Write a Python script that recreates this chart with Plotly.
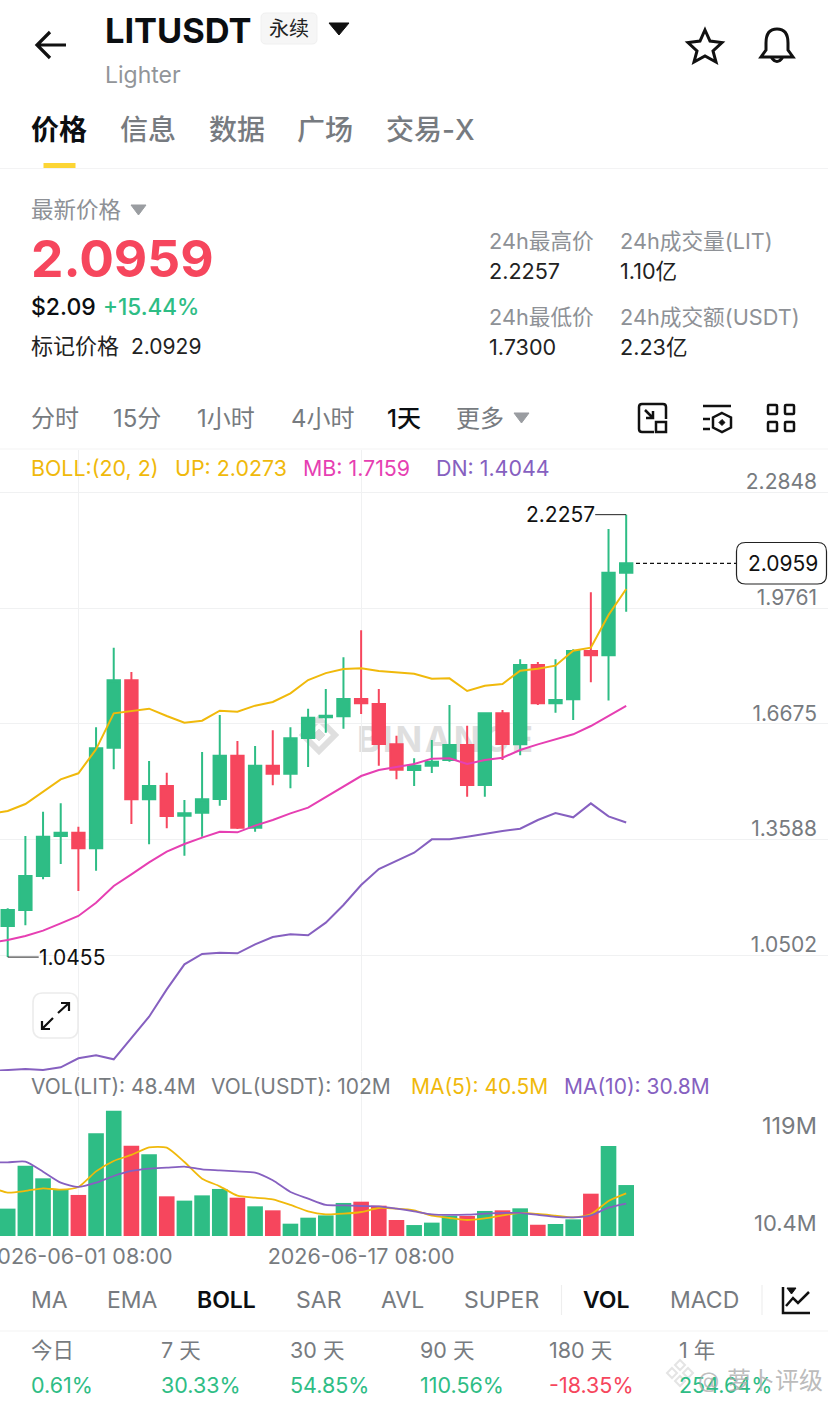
import re
import pandas as pd
import plotly.graph_objects as go

W, H = 828, 1405

# ---------- data ----------
dates = pd.date_range("2026-05-28 08:00", periods=36, freq="D")
line_dates = pd.date_range("2026-05-27 08:00", periods=37, freq="D")

opens = [1.1284,1.1711,1.2618,1.3685,1.3774,1.3356,1.6041,1.7837,1.4663,1.5019,1.4227,1.4307,
         1.4672,1.5828,1.3907,1.5561,1.5348,1.6299,1.6850,1.6877,1.7339,1.7206,1.6130,1.5445,
         1.5561,1.5712,1.6112,1.5045,1.6957,1.6130,1.8246,1.7224,1.7331,1.8620,1.8504,2.0710]
closes = [1.1711,1.2618,1.3667,1.3774,1.3356,1.6023,1.7837,1.4663,1.5019,1.4218,1.4290,1.4663,
          1.5828,1.3907,1.5561,1.5348,1.6290,1.6842,1.6895,1.7339,1.7224,1.6139,1.5454,1.5561,
          1.5668,1.6112,1.5045,1.6957,1.6139,1.8246,1.7224,1.7313,1.8620,1.8504,2.0710,2.0959]
highs = [1.1755,1.3685,1.4334,1.4556,1.3934,1.6584,1.8709,1.8060,1.5686,1.5374,1.4645,1.5926,
         1.6913,1.6219,1.6086,1.6504,1.6584,1.7082,1.7606,1.8451,1.9171,1.7606,1.6361,1.5757,
         1.6246,1.7179,1.6628,1.6975,1.7046,1.8398,1.8326,1.8398,1.8664,2.0185,2.1874,2.2257]
lows = [1.0455,1.1302,1.2529,1.2938,1.2218,1.2760,1.5463,1.4005,1.3463,1.3889,1.3160,1.3667,
        1.4494,1.3872,1.3800,1.5036,1.4956,1.5526,1.6441,1.6548,1.6939,1.5561,1.5196,1.5019,
        1.5365,1.5668,1.4734,1.4734,1.5712,1.5837,1.7179,1.6975,1.6779,1.7784,1.7300,1.9669]

boll_up = [1.4280,1.4352,1.4538,1.4867,1.5197,1.5357,1.5997,1.6957,1.7028,1.7082,1.6886,1.6708,1.6761,
           1.7028,1.7002,1.7162,1.7259,1.7491,1.7846,1.8030,1.8140,1.8158,1.8086,1.8051,1.8015,
           1.7882,1.7891,1.7553,1.7695,1.7740,1.8095,1.8149,1.8229,1.8629,1.8709,1.9580,2.0273]
boll_mb = [1.0839,1.0911,1.1017,1.1160,1.1355,1.1551,1.1906,1.2351,1.2662,1.2982,1.3267,1.3471,1.3640,
           1.3800,1.3783,1.3961,1.4112,1.4290,1.4441,1.4716,1.5001,1.5285,1.5445,1.5517,1.5605,
           1.5748,1.5757,1.5605,1.5712,1.5774,1.5979,1.6130,1.6272,1.6397,1.6619,1.6886,1.7159]
boll_dn = [0.7416,0.7434,0.7469,0.7443,0.7514,0.7754,0.7834,0.7727,0.8287,0.8865,0.9594,1.0261,1.0537,
           1.0573,1.0555,1.0795,1.0990,1.1062,1.1035,1.1373,1.1844,1.2378,1.2804,1.3018,1.3240,
           1.3596,1.3596,1.3667,1.3747,1.3818,1.3880,1.4112,1.4298,1.4183,1.4556,1.4209,1.4044]

volumes = [26.0,66.8,54.8,44.0,39.0,97.5,119.0,85.8,77.6,37.7,33.6,38.6,44.7,36.4,28.2,24.4,11.7,17.4,
           19.6,31.4,32.6,28.8,15.2,10.4,12.7,19.3,19.0,23.8,24.4,26.3,10.7,11.4,15.8,40.2,85.5,48.4]
vol_ma5 = [46.6,41.2,42.8,45.3,44.0,46.6,61.4,71.3,77.0,84.2,83.9,70.3,54.5,47.2,38.3,36.4,34.8,29.5,
           23.4,20.6,21.2,22.8,26.6,26.0,24.4,19.3,17.1,15.2,16.8,19.6,21.9,20.9,19.3,17.7,20.6,33.3,40.5]
vol_ma10 = [69.7,70.0,70.6,61.1,50.7,46.6,50.7,57.0,61.8,64.0,64.9,65.9,63.3,62.4,61.4,60.2,52.9,41.8,
            35.5,29.5,29.1,28.5,28.2,26.0,23.4,20.6,20.0,20.3,21.2,21.9,21.9,20.0,18.1,17.7,19.6,26.9,30.8]

price_ticks = [2.2848, 1.9761, 1.6675, 1.3588, 1.0502, 0.7416]
price_tick_labels = ["2.2848", "1.9761", "1.6675", "1.3588", "1.0502", "0.7416"]
date_ticks = ["2026-06-01 08:00", "2026-06-17 08:00"]
date_tick_labels = ["2026-06-01 08:00", "2026-06-17 08:00"]
last_price = 2.0959

GREEN, RED = "#2ebd85", "#f6465d"
YEL, MAG, PUR = "#f0b90b", "#e63fb2", "#8660c0"
GREY, LGREY, GRID = "#777b80", "#8e9196", "#f0f1f2"
FONT = 'Inter, "Noto Sans CJK SC", "Noto Sans", sans-serif'

fx = lambda x: x / W
fy = lambda y: 1 - y / H


def path(s):
    """Icon outline written in page pixels -> paper fractions."""
    toks = re.findall(r"[A-Za-z]|-?[\d.]+", s)
    out, isx = [], True
    for t in toks:
        if t.isalpha():
            out.append(t); isx = True
        else:
            out.append(f"{fx(float(t)):.5f}" if isx else f"{fy(float(t)):.5f}")
            isx = not isx
    return " ".join(out)


shapes, notes = [], []


def icon(s, color="#111", width=2.5, fill=None, layer="above"):
    shapes.append(dict(type="path", xref="paper", yref="paper", path=path(s), layer=layer,
                       line=dict(color=color, width=width), fillcolor=fill or "rgba(0,0,0,0)"))


def rrect(x0, y0, x1, y1, r):
    return (f"M{x0+r} {y0} L{x1-r} {y0} Q{x1} {y0} {x1} {y0+r} L{x1} {y1-r} Q{x1} {y1} {x1-r} {y1} "
            f"L{x0+r} {y1} Q{x0} {y1} {x0} {y1-r} L{x0} {y0+r} Q{x0} {y0} {x0+r} {y0} Z")


def T(x, y, text, size=21, color=GREY, weight=400, anchor="left"):
    notes.append(dict(xref="paper", yref="paper", x=fx(x), y=fy(y), text=text, showarrow=False,
                      xanchor=anchor, yanchor="middle", borderwidth=0, borderpad=0,
                      font=dict(family=FONT, size=size, color=color, weight=weight)))


# ---------- header ----------
icon("M37 45 L66 45 M50 32 L37 45 L50 58", width=3.2)
T(105, 30, "LITUSDT", 34.4, "#0b0e11", 700)
icon(rrect(261, 13, 317, 44, 5), color="#f0f0f0", width=1, fill="#f6f6f6")
T(289, 29, "永续", 20, "#222", 400, "center")
icon("M329 23 L349 23 L339 35 Z", color="#111", width=1, fill="#111")
T(105, 75, "Lighter", 23, "#929599")
icon("M705 30 L710 41 L722 42.5 L713 51 L716 62 L705 56 L694 62 L697 51 L688 42.5 L700 41 Z", width=3)
icon("M777 29 C768 29 766 36 766 43 L766 50 L761 57 L793 57 L788 50 L788 43 C788 36 786 29 777 29 Z "
     "M771 57 Q777 66 783 57", width=3)

tabs = [(31, "价格", "#0b0e11", 600), (120, "信息", GREY, 500), (209, "数据", GREY, 500),
        (297, "广场", GREY, 500), (386, "交易-X", GREY, 500)]
for x, t, c, w in tabs:
    T(x, 130, t, 28, c, w)
shapes.append(dict(type="rect", xref="paper", yref="paper", x0=fx(43.5), x1=fx(75.5), y0=fy(163), y1=fy(168.5),
                   fillcolor="#fcd535", line=dict(width=0)))
for y in (168.5, 1331, 449):
    shapes.append(dict(type="line", xref="paper", yref="paper", x0=0, x1=1, y0=fy(y), y1=fy(y),
                       line=dict(color="#f3f3f4", width=1.2)))

# ---------- price block ----------
T(31, 209, "最新价格", 22.5, LGREY)
icon("M131 205 L146 205 L138.5 215 Z", color="#9a9da1", width=1, fill="#9a9da1")
T(31, 258, "2.0959", 51.5, RED, 700)
T(31, 307, "$2.09", 23, "#0b0e11", 500)
T(103, 307, "+15.44%", 22.5, GREEN, 500)
T(31, 346, "标记价格", 22, "#222", 400)
T(131, 346, "2.0929", 21, "#222", 400)
for x, y, t, v in [(489, 241, "24h最高价", "2.2257"), (620, 241, "24h成交量(LIT)", "1.10亿"),
                   (489, 317, "24h最低价", "1.7300"), (620, 317, "24h成交额(USDT)", "2.23亿")]:
    T(x, y, t, 21.7, LGREY)
    T(x, y + 30, v, 21.6, "#222")

for x, t, c, w in [(31, "分时", GREY, 400), (113, "15分", GREY, 400), (197, "1小时", GREY, 400),
                   (291, "4小时", GREY, 400), (387, "1天", "#0b0e11", 500), (456, "更多", GREY, 400)]:
    T(x, 418, t, 24, c, w)
icon("M514 413 L529 413 L521.5 423 Z", color="#9a9da1", width=1, fill="#9a9da1")

icon("M654 432 L642 432 Q639 432 639 429 L639 407 Q639 404 642 404 L663 404 Q666 404 666 407 L666 419 "
     "M656 422 L666 422 L666 432 L656 432 Z M645 410 L653 418 M653 411 L653 418 L646 418")
icon("M703 406 L731 406 M703 419 L710 419 M703 429 L710 429 "
     "M722 413 L731 417.5 L731 427.5 L722 432 L713 427.5 L713 417.5 Z")
icon("M722 419.5 L725 422.5 L722 425.5 L719 422.5 Z", fill="#111", width=1)
for x0, y0 in [(768, 405), (785, 405), (768, 422), (785, 422)]:
    icon(rrect(x0, y0, x0 + 9, y0 + 9, 1))

# ---------- indicator captions ----------
for x, t, c in [(31, "BOLL:(20, 2)", YEL), (175, "UP: 2.0273", YEL), (303, "MB: 1.7159", MAG), (436, "DN: 1.4044", PUR)]:
    T(x, 468, t, 21.4, c)
for x, t, c in [(31, "VOL(LIT): 48.4M", GREY), (211, "VOL(USDT): 102M", GREY),
                (411, "MA(5): 40.5M", YEL), (564, "MA(10): 30.8M", PUR)]:
    T(x, 1086, t, 21, c)
T(817, 1125, "119M", 23.5, GREY, 400, "right")
T(817, 1223, "10.4M", 22, GREY, 400, "right")

# ---------- watermark (behind the marks) ----------
icon("M319 719 L335 735 L319 751 L303 735 Z", color="#dfdfdf", width=6, layer="below")
icon("M319 729 L325 735 L319 741 L313 735 Z", color="#dfdfdf", width=1, fill="#dfdfdf", layer="below")
shapes.append(dict(type="rect", xref="paper", yref="paper", x0=fx(345), x1=fx(545), y0=fy(752), y1=fy(724),
                   layer="below", line=dict(width=0), fillcolor="rgba(0,0,0,0)",
                   label=dict(text="B\u200aI\u200aN\u200aA\u200aN\u200aC\u200aE", textposition="middle center",
                              font=dict(family="Inter", size=35, color="#dfdfdf", weight=700))))

# ---------- last price tag ----------
shapes.append(dict(type="line", xref="paper", yref="y", x0=fx(636), x1=fx(737), y0=last_price, y1=last_price,
                   line=dict(color="#111", width=1.2, dash="4px,3px")))
icon(rrect(736.5, 542.5, 826.5, 584, 9), color="#222", width=1.2, fill="#ffffff")
notes.append(dict(xref="paper", yref="y", x=fx(783), y=last_price, text=f"{last_price:.4f}", showarrow=False,
                  xanchor="center", yanchor="middle", borderwidth=0, borderpad=0,
                  font=dict(family=FONT, size=21, color="#111")))

# extreme price callouts
for idx, val, ax, anc in [(35, max(highs), -31, "right"), (0, min(lows), 31, "left")]:
    notes.append(dict(xref="x", yref="y", x=dates[idx], y=val, text=f"{val:.4f}", showarrow=True, arrowhead=0,
                      arrowwidth=1, arrowcolor="#222", ax=ax, ay=0, standoff=0, startstandoff=0,
                      xanchor=anc, yanchor="middle", borderwidth=0, borderpad=0,
                      font=dict(family=FONT, size=21, color="#111")))

# expand button
icon(rrect(33, 993, 78, 1038, 10), color="#ececec", width=1.6, fill="#ffffff")
icon("M42 1029 L53 1018 M42 1021 L42 1029 L50 1029 M58 1013 L69 1003 M61 1003 L69 1003 L69 1011", width=2.2)

# ---------- bottom rows ----------
for x, t, c, w in [(31, "MA", GREY, 400), (107, "EMA", GREY, 400), (197, "BOLL", "#0b0e11", 600),
                   (296, "SAR", GREY, 400), (381, "AVL", GREY, 400), (464, "SUPER", GREY, 400),
                   (583, "VOL", "#0b0e11", 600), (670, "MACD", GREY, 400)]:
    T(x, 1300, t, 23, c, w)
for x in (561.5, 762):
    shapes.append(dict(type="line", xref="paper", yref="paper", x0=fx(x), x1=fx(x), y0=fy(1285), y1=fy(1315),
                       line=dict(color="#eeeeee", width=1.2)))
icon("M783 1287 L783 1313 L810 1313 M786 1306 L793 1298 L798 1303 L809 1292")
icon("M787 1288 L796 1288 L791.5 1294 Z", fill="#111", width=1)

for x, a, b, c in [(31, "今日", "0.61%", GREEN), (161, "7 天", "30.33%", GREEN), (290, "30 天", "54.85%", GREEN),
                   (420, "90 天", "110.56%", GREEN), (549, "180 天", "-18.35%", RED), (679, "1 年", "254.64%", GREEN)]:
    T(x, 1350, a, 21.5, GREY)
    T(x, 1385, b, 21.5, c)

# site watermark
for cx, cy in [(680, 1365), (672, 1373), (688, 1373), (680, 1381)]:
    r = 5
    icon(f"M{cx} {cy-r} L{cx+r} {cy} L{cx} {cy+r} L{cx-r} {cy} Z", color="rgba(225,225,225,0.9)", width=2,
         fill="rgba(255,255,255,0.8)")
T(698, 1380, "@", 22, "rgba(170,170,170,0.75)")
T(727, 1380, "萝卜评级", 24, "rgba(170,170,170,0.8)")

# ---------- traces ----------
fig = go.Figure()
fig.add_trace(go.Candlestick(x=dates, open=opens, high=highs, low=lows, close=closes, xaxis="x", yaxis="y",
                             whiskerwidth=0, hoverinfo="skip",
                             increasing=dict(line=dict(color=GREEN, width=2), fillcolor=GREEN),
                             decreasing=dict(line=dict(color=RED, width=2), fillcolor=RED)))
for series, col in [(boll_up, YEL), (boll_mb, MAG), (boll_dn, PUR)]:
    fig.add_trace(go.Scatter(x=line_dates, y=series, mode="lines", xaxis="x", yaxis="y", hoverinfo="skip",
                             line=dict(color=col, width=2)))

vol_colors = [GREEN if c >= o else RED for o, c in zip(opens, closes)]
fig.add_trace(go.Bar(x=dates, y=volumes, xaxis="x2", yaxis="y2", marker=dict(color=vol_colors, line=dict(width=0)),
                     width=76.3e6, hoverinfo="skip"))
for series, col in [(vol_ma5, YEL), (vol_ma10, PUR)]:
    fig.add_trace(go.Scatter(x=line_dates, y=series, mode="lines", xaxis="x2", yaxis="y2", hoverinfo="skip",
                             line=dict(color=col, width=1.8, shape="spline", smoothing=0.6)))

x_range = ["2026-05-27 21:32", "2026-07-13 18:05"]
fig.update_layout(
    width=W, height=H, margin=dict(l=0, r=0, t=0, b=0, autoexpand=False), paper_bgcolor="#ffffff",
    plot_bgcolor="rgba(0,0,0,0)",
    showlegend=False, hovermode=False, boxgap=0.0, boxmode="overlay",
    shapes=shapes, annotations=notes, font=dict(family=FONT),
    xaxis=dict(domain=[0, 1], range=x_range, type="date", anchor="y", tickmode="array", tickvals=date_ticks,
               showticklabels=False, showgrid=True, gridcolor=GRID, gridwidth=1, zeroline=False,
               showline=False, rangeslider=dict(visible=False), ticks=""),
    yaxis=dict(domain=[fy(1071), fy(450)], range=[0.7416, 2.3982], side="right", anchor="x", tickmode="array",
               tickvals=price_ticks, ticktext=price_tick_labels, ticklabelposition="inside top",
               ticklabelstandoff=8, ticklabelshift=4, tickfont=dict(family=FONT, size=21, color=GREY),
               showgrid=True, gridcolor=GRID, gridwidth=1, zeroline=False, showline=False, ticks=""),
    xaxis2=dict(domain=[0, 1], range=x_range, type="date", anchor="y2", matches="x", tickmode="array",
                tickvals=date_ticks, ticktext=date_tick_labels, ticklabeloverflow="allow",
                tickfont=dict(family=FONT, size=21.5, color=GREY), showgrid=True, gridcolor=GRID, gridwidth=1,
                zeroline=False, showline=False, rangeslider=dict(visible=False), ticks="", ticklen=0,
                ticklabelstandoff=5),
    yaxis2=dict(domain=[fy(1236), fy(1072)], range=[0, 155.8], side="right", anchor="x2", tickmode="array",
                tickvals=[0], showticklabels=False, showgrid=True, gridcolor="#eceded", zeroline=False,
                showline=False, ticks=""),
)

fig.write_html("out.html", config=dict(displayModeBar=False, staticPlot=True),
               post_script="document.body.style.margin='0';")
